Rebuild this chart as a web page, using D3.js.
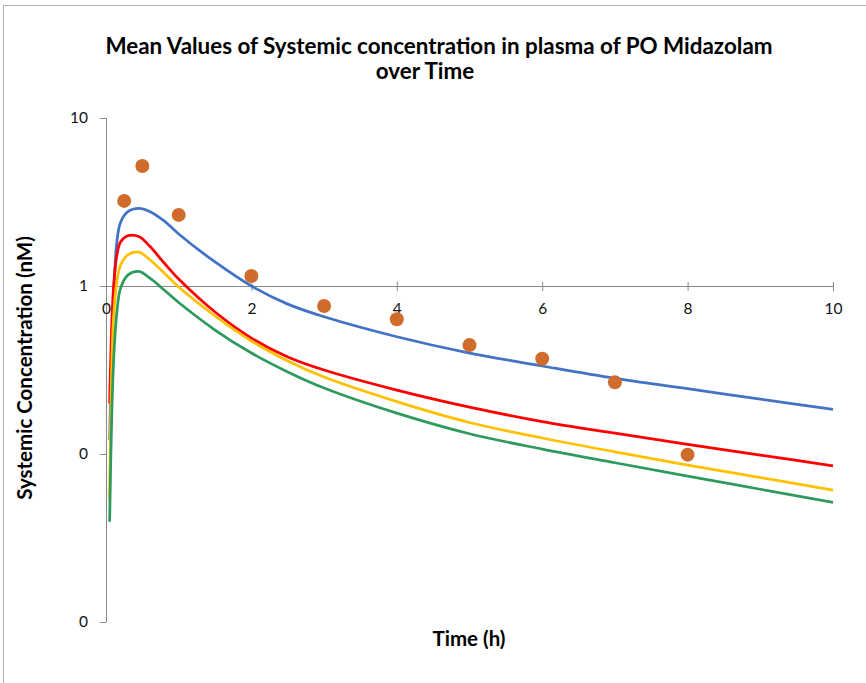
<!DOCTYPE html>
<html lang="en">
<head>
    <meta charset="UTF-8">
    <title>Mean Values of Systemic concentration in plasma of PO Midazolam over Time</title>
    <script src="https://cdnjs.cloudflare.com/ajax/libs/d3/7.8.5/d3.min.js"></script>
    <style>
        body {
            margin: 0;
            padding: 0;
            background-color: #ffffff;
            font-family: Lato, "Open Sans", sans-serif;
        }
    </style>
</head>
<body>
    <div id="chart"></div>

    <script>
        // Data
        const time = [0.05, 0.1, 0.15, 0.2, 0.3, 0.45, 0.6, 0.8, 1, 1.5, 2, 2.5, 3, 4, 5, 6, 7, 8, 9, 10];
        const simBlue   = [0.121, 0.77, 1.84, 2.39, 2.77, 2.90, 2.78, 2.44, 2.04, 1.39, 1.0, 0.78, 0.656, 0.499, 0.399, 0.334, 0.282, 0.245, 0.212, 0.1845];
        const simRed    = [0.2, 0.925, 1.53, 1.83, 1.99, 1.97, 1.73, 1.37, 1.10, 0.700, 0.490, 0.378, 0.316, 0.240, 0.190, 0.156, 0.133, 0.114, 0.0985, 0.0851];
        const simYellow = [0.053, 0.6, 1.06, 1.33, 1.53, 1.59, 1.438, 1.195, 0.986, 0.663, 0.470, 0.358, 0.287, 0.205, 0.154, 0.1245, 0.103, 0.0858, 0.0724, 0.061];
        const simGreen  = [0.0395, 0.323, 0.70, 0.968, 1.16, 1.22, 1.116, 0.947, 0.797, 0.547, 0.399, 0.308, 0.247, 0.175, 0.132, 0.107, 0.0887, 0.0738, 0.0617, 0.0516];

        const obsTime = [0.25, 0.5, 1, 2, 3, 4, 5, 6, 7, 8];
        const obsConc = [3.21, 5.18, 2.65, 1.147, 0.76, 0.634, 0.445, 0.369, 0.267, 0.0991];

        const xTicks = [0, 2, 4, 6, 8, 10];
        const yTicks = [10, 1, 0.1, 0.01];
        const yTickLabels = ["10", "1", "0", "0"];

        const width = 866;
        const height = 683;

        const svg = d3.select("#chart")
            .append("svg")
            .attr("width", width)
            .attr("height", height);

        // outer chart frame (runs off the right / bottom of the picture)
        svg.append("rect")
            .attr("x", 3.5)
            .attr("y", 5.5)
            .attr("width", 900)
            .attr("height", 700)
            .attr("fill", "#ffffff")
            .attr("stroke", "#b0b0b0")
            .attr("stroke-width", 1);

        const x = d3.scaleLinear().domain([0, 10]).range([106, 833]);
        const y = d3.scaleLog().domain([0.01, 10]).range([622, 118]);

        // title
        const title = svg.append("text")
            .attr("font-weight", "bold")
            .attr("font-size", "22.4px")
            .attr("fill", "#000");
        title.append("tspan")
            .attr("x", 439).attr("y", 54)
            .attr("text-anchor", "middle")
            .text("Mean Values of Systemic concentration in plasma of PO Midazolam");
        title.append("tspan")
            .attr("x", 425).attr("y", 79)
            .attr("text-anchor", "middle")
            .text("over Time");

        // y axis
        const yAxis = svg.append("g")
            .attr("transform", `translate(${x(0)},0)`)
            .call(d3.axisLeft(y)
                .tickValues(yTicks)
                .tickFormat((d, i) => yTickLabels[i])
                .tickSize(6)
                .tickSizeOuter(0)
                .tickPadding(12));
        yAxis.select(".domain").attr("stroke", "#898989").attr("d", `M0.5,${y(10)}V${y(0.01)}`);
        yAxis.selectAll(".tick line").attr("stroke", "#898989");
        yAxis.selectAll(".tick text")
            .attr("font-family", "Lato, sans-serif")
            .attr("font-size", "15.5px")
            .attr("fill", "#111");

        // x axis crossing at y = 1
        const xAxis = svg.append("g")
            .attr("transform", `translate(0,${y(1)})`)
            .call(d3.axisBottom(x)
                .tickValues(xTicks)
                .tickSize(5)
                .tickSizeOuter(0)
                .tickPadding(12));
        xAxis.select(".domain").attr("stroke", "#898989");
        xAxis.selectAll(".tick line")
            .attr("stroke", "#898989")
            .attr("y1", -4)
            .attr("y2", 5)
            .style("display", d => d === 0 ? "none" : null);
        xAxis.selectAll(".tick text")
            .attr("font-family", "Lato, sans-serif")
            .attr("font-size", "15.5px")
            .attr("fill", "#111");

        // axis titles
        svg.append("text")
            .attr("transform", `translate(32,368) rotate(-90)`)
            .attr("text-anchor", "middle")
            .attr("font-weight", "bold")
            .attr("font-size", "20.5px")
            .text("Systemic Concentration (nM)");

        svg.append("text")
            .attr("x", 469)
            .attr("y", 646)
            .attr("text-anchor", "middle")
            .attr("font-weight", "bold")
            .attr("font-size", "20.5px")
            .text("Time (h)");

        // simulated lines
        const series = [
            { values: simBlue, color: "#4472c4" },
            { values: simRed, color: "#ff0000" },
            { values: simYellow, color: "#ffc000" },
            { values: simGreen, color: "#2e9b5d" }
        ];

        const line = d3.line()
            .x((d, i) => x(time[i]))
            .y(d => y(d))
            .curve(d3.curveCatmullRom.alpha(0.5));

        svg.append("g")
            .selectAll("path")
            .data(series)
            .enter().append("path")
            .attr("d", d => line(d.values))
            .attr("fill", "none")
            .attr("stroke", d => d.color)
            .attr("stroke-width", 2.75)
            .attr("stroke-linejoin", "round");

        // observed points
        svg.append("g")
            .selectAll("circle")
            .data(obsTime)
            .enter().append("circle")
            .attr("cx", d => x(d))
            .attr("cy", (d, i) => y(obsConc[i]))
            .attr("r", 7)
            .attr("fill", "#d06c2b");
    </script>
</body>
</html>
